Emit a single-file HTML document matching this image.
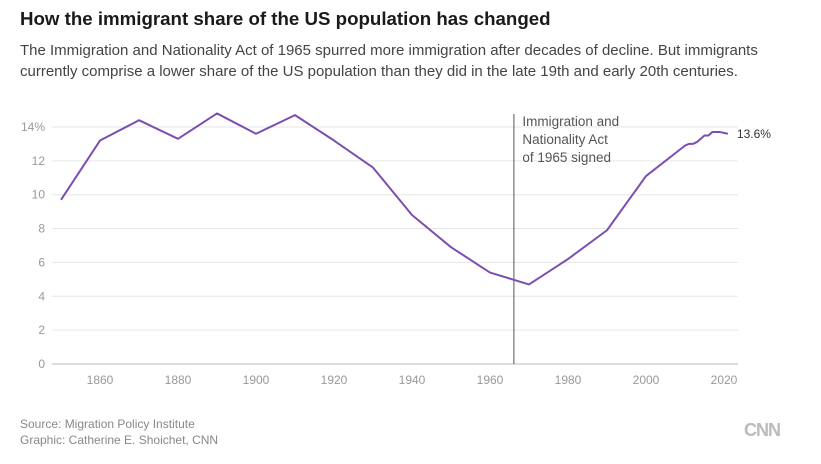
<!DOCTYPE html>
<html><head><meta charset="utf-8">
<style>
body{margin:0;width:821px;height:464px;background:#fff;font-family:"Liberation Sans",Arial,sans-serif;overflow:hidden}
h1{position:absolute;left:20px;top:8px;margin:0;font-size:18.7px;font-weight:bold;color:#1a1a1a}
.sub{position:absolute;left:20px;top:40px;font-size:15px;line-height:21px;color:#444;width:785px}
.foot{position:absolute;left:20px;top:416px;font-size:12px;line-height:16px;color:#888}
.logo{position:absolute;left:744px;top:420px;font-size:18px;font-weight:bold;color:#bbb;letter-spacing:-1px}
svg{position:absolute;left:0;top:0}
</style></head><body>
<h1>How the immigrant share of the US population has changed</h1>
<div class="sub">The Immigration and Nationality Act of 1965 spurred more immigration after decades of decline. But immigrants currently comprise a lower share of the US population than they did in the late 19th and early 20th centuries.</div>
<svg id="chart" width="821" height="464"></svg>
<div class="foot">Source: Migration Policy Institute<br>Graphic: Catherine E. Shoichet, CNN</div>
<div class="logo">CNN</div>
<script>
const years=[1850,1860,1870,1880,1890,1900,1910,1920,1930,1940,1950,1960,1970,1980,1990,2000,2010,2011,2012,2013,2014,2015,2016,2017,2018,2019,2021];
const shares=[9.7,13.2,14.4,13.3,14.8,13.6,14.7,13.2,11.6,8.8,6.9,5.4,4.7,6.2,7.9,11.1,12.9,13.0,13.0,13.1,13.3,13.5,13.5,13.7,13.7,13.7,13.6];
const yTicks=[0,2,4,6,8,10,12,14];
const xTicks=[1860,1880,1900,1920,1940,1960,1980,2000,2020];
const annYear=1966;
const svg=document.getElementById('chart');const NS='http://www.w3.org/2000/svg';
const x=v=>100+(v-1860)*3.9;
const y=v=>364-v*16.93;
function mk(t,a){const e=document.createElementNS(NS,t);for(const k in a)e.setAttribute(k,a[k]);svg.appendChild(e);return e;}
yTicks.forEach(t=>{
 const l=mk('line',{x1:52,x2:738,y1:y(t),y2:y(t),stroke:t===0?'#bbb':'#e6e6e6','stroke-width':1});
 
 
 const tx=mk('text',{x:45,y:y(t)+4,'text-anchor':'end','font-size':12,fill:'#999'});
 tx.textContent=t===14?'14%':t;
 
 
});
xTicks.forEach(t=>{
 const tx=mk('text',{x:x(t),y:384,'text-anchor':'middle','font-size':12,fill:'#999'});
 tx.textContent=t;
 
 
});
const ann=mk('line',{x1:x(annYear)+0.5,x2:x(annYear)+0.5,y1:114,y2:364,stroke:'#555','stroke-width':1});


['Immigration and','Nationality Act','of 1965 signed'].forEach((s,i)=>{
 const tx=mk('text',{x:x(annYear)+9,y:126+i*18,'font-size':13.5,fill:'#555'});
 tx.textContent=s;
 
 
});
const p=mk('polyline',{points:years.map((v,i)=>x(v)+','+y(shares[i])).join(' '),fill:'none',stroke:'#7b4fb0','stroke-width':2,'stroke-linejoin':'round'});


const lab=mk('text',{x:x(years[years.length-1])+9,y:y(shares[shares.length-1])+4,'font-size':12,fill:'#333'});
lab.textContent=shares[shares.length-1].toFixed(1)+'%';


</script>
</body></html>
